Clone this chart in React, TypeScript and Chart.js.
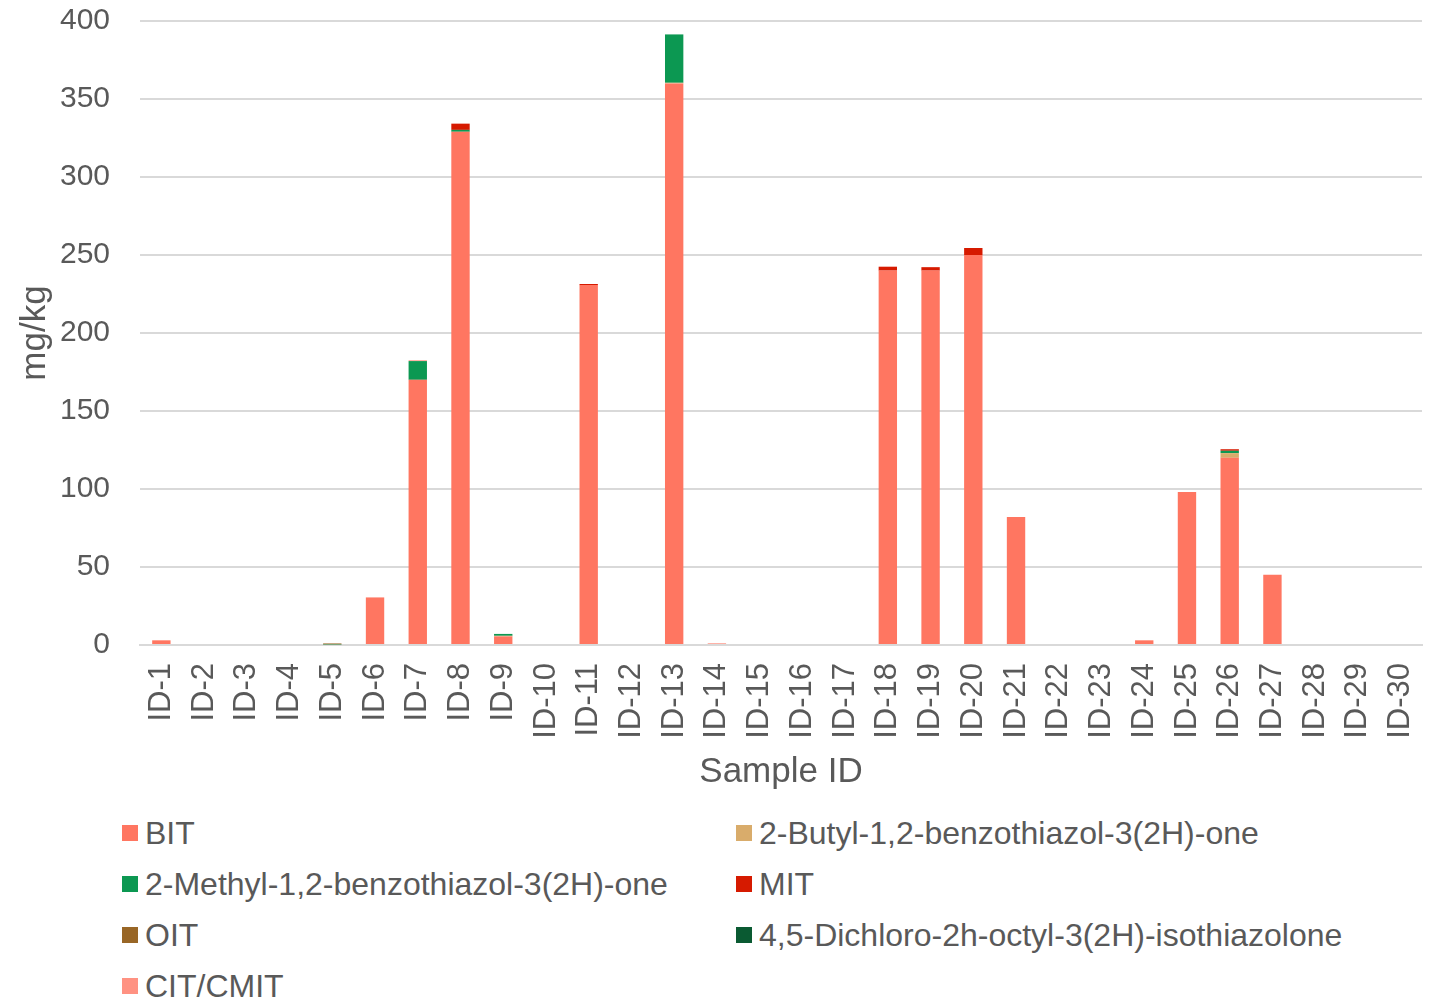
import React, { useEffect, useRef } from "react";
import { Chart, registerables } from "chart.js";

Chart.register(...registerables);

const categories = Array.from({ length: 30 }, (_, i) => `ID-${i + 1}`);

const seriesNames = [
  "BIT",
  "2-Butyl-1,2-benzothiazol-3(2H)-one",
  "2-Methyl-1,2-benzothiazol-3(2H)-one",
  "MIT",
  "OIT",
  "4,5-Dichloro-2h-octyl-3(2H)-isothiazolone",
  "CIT/CMIT",
];

const seriesColors = ["#FF7661", "#D9AC6B", "#0C9852", "#D61A00", "#996626", "#0A5A32", "#FF9282"];

//                 1  2  3  4  5    6     7    8    9  10  11   12  13   14 15 16 17  18   19   20  21 22 23 24  25   26  27 28 29 30
const bit =      [3, 0, 0, 0, 0, 30.5, 170, 329, 5.5, 0, 230.7, 0, 360, 1, 0, 0, 0, 240, 240, 250, 82, 0, 0, 3, 98, 120, 45, 0, 0, 0];
const butyl =    [0, 0, 0, 0, 0, 0, 0, 0, 0.4, 0, 0, 0, 0.4, 0, 0, 0, 0, 0, 0, 0, 0, 0, 0, 0, 0, 3, 0, 0, 0, 0];
const methyl =   [0, 0, 0, 0, 0.4, 0, 12, 1.2, 1.2, 0, 0, 0, 31, 0, 0, 0, 0, 0, 0, 0, 0, 0, 0, 0, 0, 1.5, 0, 0, 0, 0];
const mit =      [0, 0, 0, 0, 0, 0, 0, 4, 0, 0, 0.7, 0, 0, 0, 0, 0, 0, 2.5, 2.2, 4.5, 0, 0, 0, 0, 0, 1, 0, 0, 0, 0];
const oit =      [0, 0, 0, 0, 0.6, 0, 0, 0, 0, 0, 0, 0, 0, 0, 0, 0, 0, 0, 0, 0, 0, 0, 0, 0, 0, 0, 0, 0, 0, 0];
const dichloro = [0, 0, 0, 0, 0, 0, 0, 0, 0, 0, 0, 0, 0, 0, 0, 0, 0, 0, 0, 0, 0, 0, 0, 0, 0, 0, 0, 0, 0, 0];
const cit =      [0, 0, 0, 0, 0, 0, 0.5, 0, 0, 0, 0, 0, 0, 0, 0, 0, 0, 0, 0, 0, 0, 0, 0, 0, 0, 0, 0, 0, 0, 0];

const seriesValues = [bit, butyl, methyl, mit, oit, dichloro, cit];

const yTicks = [0, 50, 100, 150, 200, 250, 300, 350, 400];

const FONT = "'Liberation Sans', Arial, sans-serif";
const TEXT = "#595959";

export default function App() {
  const ref = useRef<HTMLCanvasElement>(null);

  useEffect(() => {
    if (!ref.current) return;
    const chart = new Chart(ref.current, {
      type: "bar",
      data: {
        labels: categories,
        datasets: seriesNames.map((name, i) => ({
          label: name,
          data: seriesValues[i],
          backgroundColor: seriesColors[i],
          borderWidth: 0,
          barPercentage: 1,
          categoryPercentage: 0.43,
        })),
      },
      options: {
        responsive: false,
        animation: false,
        devicePixelRatio: 1,
        layout: { padding: { left: 0, top: 21, right: 13, bottom: 0 } },
        plugins: {
          legend: { display: false },
          tooltip: { enabled: false },
        },
        scales: {
          x: {
            stacked: true,
            grid: { display: false, drawTicks: false },
            border: { display: true, color: "#d9d9d9", width: 2 },
            ticks: {
              color: TEXT,
              font: { family: FONT, size: 31 },
              minRotation: 90,
              maxRotation: 90,
              padding: 18,
              autoSkip: false,
            },
            title: {
              display: true,
              text: "Sample ID",
              color: TEXT,
              font: { family: FONT, size: 35 },
              padding: { top: 0, bottom: 7 },
            },
            afterFit: (scale: any) => {
              scale.height = 155;
              scale.paddingLeft = 0;
              scale.paddingRight = 0;
            },
          },
          y: {
            stacked: true,
            min: 0,
            max: 400,
            afterBuildTicks: (scale: any) => {
              scale.ticks = yTicks.map((v) => ({ value: v }));
            },
            grid: { color: "#d9d9d9", lineWidth: 2, drawTicks: false },
            border: { display: false },
            ticks: {
              color: TEXT,
              font: { family: FONT, size: 30 },
              padding: 30,
            },
            title: {
              display: true,
              text: "mg/kg",
              color: TEXT,
              font: { family: FONT, size: 35 },
              padding: { top: 14, bottom: 0 },
            },
            afterFit: (scale: any) => {
              scale.width = 140;
              scale.paddingTop = 0;
              scale.paddingBottom = 0;
            },
          },
        },
      },
    });
    return () => chart.destroy();
  }, []);

  const legendItems = seriesNames.map((name, i) => ({
    name,
    color: seriesColors[i],
    col: i % 2,
    row: Math.floor(i / 2),
  }));

  return (
    <div style={{ position: "absolute", left: 0, top: 0, width: 1435, height: 1000, background: "#fff", overflow: "hidden" }}>
      <canvas ref={ref} width={1435} height={800} style={{ position: "absolute", left: 0, top: 0, width: 1435, height: 800 }} />
      {legendItems.map((it) => (
        <div
          key={it.name}
          style={{
            position: "absolute",
            left: it.col === 0 ? 122 : 736,
            top: 833 + it.row * 51 - 20,
            height: 40,
            display: "flex",
            alignItems: "center",
            fontFamily: FONT,
            fontSize: 32,
            color: TEXT,
            whiteSpace: "nowrap",
          }}
        >
          <span style={{ display: "inline-block", width: 16, height: 16, background: it.color, marginRight: 7 }} />
          <span>{it.name}</span>
        </div>
      ))}
    </div>
  );
}
